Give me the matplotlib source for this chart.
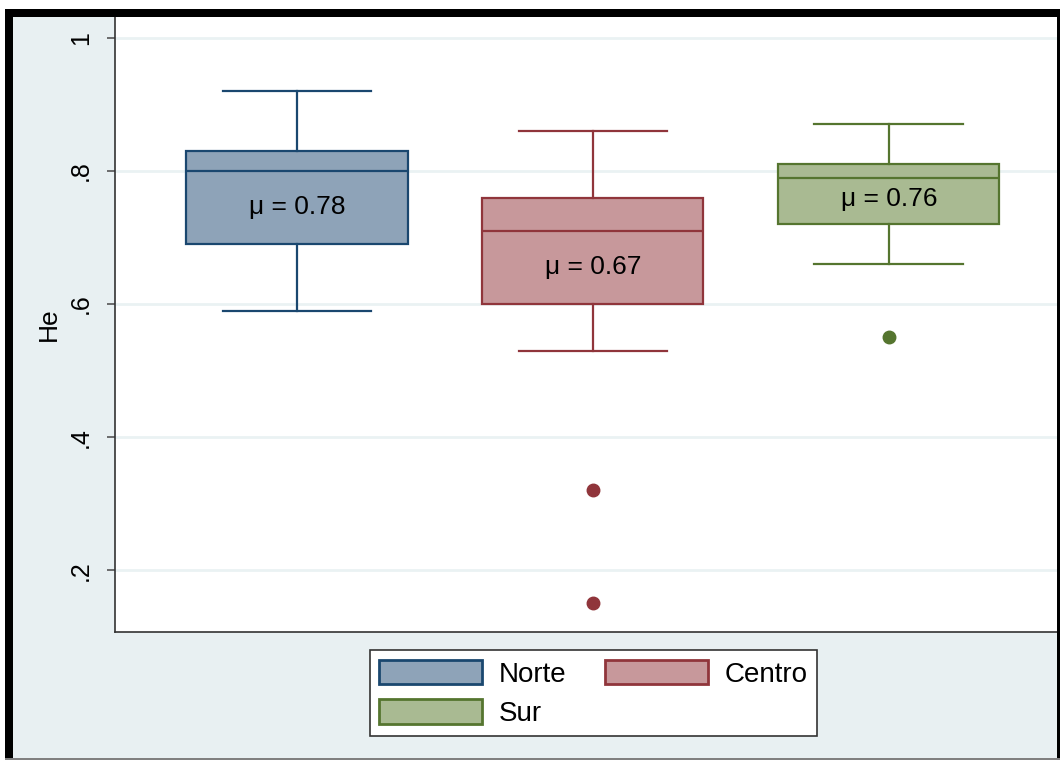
import matplotlib
matplotlib.use('Agg')
import matplotlib.pyplot as plt
from matplotlib.patches import Rectangle, Patch

plt.rcParams['font.family'] = ['Liberation Sans', 'DejaVu Sans']

# He by region
regions = ['Norte', 'Centro', 'Sur']
whislo = [0.59, 0.53, 0.66]
q1 = [0.69, 0.60, 0.72]
med = [0.80, 0.71, 0.79]
q3 = [0.83, 0.76, 0.81]
whishi = [0.92, 0.86, 0.87]
fliers = [[], [0.32, 0.15], [0.55]]
means = [0.78, 0.67, 0.76]
label_y = [0.746, 0.656, 0.758]

edge_cols = ['#1a476f', '#90353b', '#55752f']
fill_cols = ['#8ea3b8', '#c7989b', '#a9ba92']
bg = '#e8f0f2'

fig = plt.figure(figsize=(10.6, 7.6), dpi=100, facecolor='white')
W, H = 1060.0, 760.0

# frame: light background with heavy black border on top/left/right
fig.patches.append(Rectangle((5 / W, 2 / H), 1052 / W, 741 / H, transform=fig.transFigure,
                             facecolor=bg, edgecolor='none', zorder=-10))
for r in [(5, 743, 1055, 8), (5, 2, 8, 749), (1057, 2, 3, 749)]:
    fig.patches.append(Rectangle((r[0] / W, r[1] / H), r[2] / W, r[3] / H,
                                 transform=fig.transFigure, facecolor='black',
                                 edgecolor='none', zorder=5))
fig.patches.append(Rectangle((5 / W, 0), 1055 / W, 2 / H, transform=fig.transFigure,
                             facecolor='#808080', edgecolor='none', zorder=5))

ax = fig.add_axes([115 / W, 1 - 632 / H, 942 / W, 615 / H])
ax.set_facecolor('white')

stats = []
for i in range(3):
    stats.append(dict(whislo=whislo[i], q1=q1[i], med=med[i], q3=q3[i],
                      whishi=whishi[i], fliers=fliers[i], label=regions[i]))

pos = [1, 2, 3]
for i in range(3):
    c = edge_cols[i]
    ax.bxp([stats[i]], positions=[pos[i]], widths=0.747, capwidths=0.503,
           patch_artist=True, showfliers=True,
           boxprops=dict(facecolor=fill_cols[i], edgecolor=c, linewidth=1.6),
           whiskerprops=dict(color=c, linewidth=1.6),
           capprops=dict(color=c, linewidth=1.6),
           medianprops=dict(color=c, linewidth=1.6),
           flierprops=dict(marker='o', markerfacecolor=c, markeredgecolor=c, markersize=9))
    ax.text(pos[i], label_y[i], 'μ = %.2f' % means[i], ha='center', va='center',
            fontsize=19, color='black', zorder=10)

ax.set_xlim(0.385, 3.568)
ax.set_ylim(0.107, 1.0316)
ax.set_xticks([])
ax.set_yticks([0.2, 0.4, 0.6, 0.8, 1.0])
ax.set_yticklabels(['.2', '.4', '.6', '.8', '1'], rotation=90, va='center', fontsize=18)
ax.tick_params(axis='y', length=6, width=1.2, color='#555555', pad=10)
ax.yaxis.grid(True, color='#eaf2f3', linewidth=2)
ax.set_axisbelow(True)
ax.set_ylabel('He', fontsize=19, labelpad=6)
for s in ['top', 'right']:
    ax.spines[s].set_visible(False)
for s in ['left', 'bottom']:
    ax.spines[s].set_color('#333333')
    ax.spines[s].set_linewidth(1.2)

# legend filled column-wise: Norte/Sur in first column, Centro in second
handles = [Patch(facecolor=fill_cols[i], edgecolor=edge_cols[i], linewidth=2, label=regions[i])
           for i in [0, 2, 1]]
leg = fig.legend(handles=handles, loc='upper center', ncol=2,
                 bbox_to_anchor=(593.5 / W, 1 - 636 / H), fontsize=20,
                 handlelength=3.7, handleheight=1.0, handletextpad=0.6,
                 columnspacing=1.4, labelspacing=0.4, borderpad=0.35,
                 frameon=True, fancybox=False, edgecolor='#333333', framealpha=1)
leg.get_frame().set_linewidth(1.2)

fig.savefig('out.png', dpi=100, facecolor=fig.get_facecolor())
